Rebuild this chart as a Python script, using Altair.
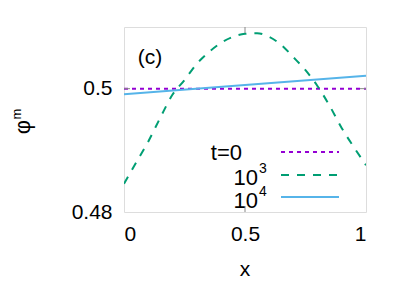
import altair as alt
import pandas as pd

# ---- data ----
x_t0 = [0.0, 1.0]
phi_t0 = [0.5, 0.5]

x_t1e3 = [0.0, 0.05, 0.1, 0.15, 0.2, 0.25, 0.3, 0.35, 0.4, 0.45, 0.5,
          0.55, 0.6, 0.65, 0.7, 0.75, 0.8, 0.85, 0.9, 0.95, 1.0]
phi_t1e3 = [0.4846, 0.4880, 0.4914, 0.4953, 0.4990, 0.5014, 0.5040, 0.5059,
            0.5074, 0.5084, 0.5089, 0.5090, 0.5084, 0.5071, 0.5051, 0.5030,
            0.5004, 0.4972, 0.4936, 0.4905, 0.4876]

x_t1e4 = [0.0, 1.0]
phi_t1e4 = [0.4991, 0.5021]

x_ticks = [0, 0.5, 1]
y_ticks = [0.48, 0.5]

FONT = "Liberation Sans"
W, H = 242, 185
PURPLE, GREEN, BLUE = "#9400d3", "#009e73", "#56b4e9"

df0 = pd.DataFrame({"x": x_t0, "phi": phi_t0})
df3 = pd.DataFrame({"x": x_t1e3, "phi": phi_t1e3})
df4 = pd.DataFrame({"x": x_t1e4, "phi": phi_t1e4})

xs = alt.Scale(domain=[0, 1], nice=False, zero=False)
ys = alt.Scale(domain=[0.48, 0.51], nice=False, zero=False)

xax = alt.Axis(values=x_ticks, format="~g", title=None, domain=False, ticks=False,
               grid=False, labelFont=FONT, labelFontSize=21, labelColor="black",
               labelPadding=11)
yax = alt.Axis(values=y_ticks, format="~g", title=None, domain=False, ticks=False,
               grid=False, labelFont=FONT, labelFontSize=21, labelColor="black",
               labelPadding=12)

base_x = alt.X("x:Q", scale=xs, axis=xax)
base_y = alt.Y("phi:Q", scale=ys, axis=yax)

l0 = alt.Chart(df0).mark_line(color=PURPLE, strokeWidth=2, strokeDash=[4, 4]).encode(
    x=base_x, y=base_y)
l3 = alt.Chart(df3).mark_line(color=GREEN, strokeWidth=2, strokeDash=[8, 8],
                               interpolate="monotone", clip=True).encode(x=base_x, y=base_y)
l4 = alt.Chart(df4).mark_line(color=BLUE, strokeWidth=2).encode(x=base_x, y=base_y)

# inward tick marks (gnuplot style, mirrored)
tx = pd.DataFrame({"x": [0.5]})
ty = pd.DataFrame({"phi": [0.5]})
tick_style = dict(color="#888888", strokeWidth=1)
tb = alt.Chart(tx).mark_rule(**tick_style).encode(
    x=alt.X("x:Q", scale=xs), y=alt.value(H), y2=alt.value(H - 6))
tt = alt.Chart(tx).mark_rule(**tick_style).encode(
    x=alt.X("x:Q", scale=xs), y=alt.value(0), y2=alt.value(6))
tl = alt.Chart(ty).mark_rule(**tick_style).encode(
    y=alt.Y("phi:Q", scale=ys), x=alt.value(0), x2=alt.value(6))
tr = alt.Chart(ty).mark_rule(**tick_style).encode(
    y=alt.Y("phi:Q", scale=ys), x=alt.value(W), x2=alt.value(W - 6))

one = pd.DataFrame({"a": [0]})


def txt(s, x, y, size=21, align="center", baseline="middle", angle=0):
    kw = dict(font=FONT, fontSize=size, align=align, baseline=baseline, color="black")
    if angle:
        kw["angle"] = angle
    return alt.Chart(one).mark_text(text=s, **kw).encode(x=alt.value(x), y=alt.value(y))


labels = [
    txt("(c)", 26, 31),
    txt("x", 121, 243),
    txt("φ", -101, 100, size=22, angle=270),
    txt("m", -107, 87, size=13, angle=270),
    txt("t=0", 118, 126, size=22, align="right"),
    txt("10", 134, 151, size=22, align="right"),
    txt("3", 135, 142, size=14, align="left"),
    txt("10", 134, 174, size=22, align="right"),
    txt("4", 135, 165, size=14, align="left"),
]


def sample(y, color, dash=None):
    kw = dict(color=color, strokeWidth=2)
    if dash:
        kw["strokeDash"] = dash
    return alt.Chart(one).mark_rule(**kw).encode(
        x=alt.value(157), x2=alt.value(215), y=alt.value(y))


samples = [sample(125, PURPLE, [4, 4]), sample(148, GREEN, [8, 8]), sample(170, BLUE)]

chart = alt.layer(l0, l3, l4, tb, tt, tl, tr, *samples, *labels).properties(
    width=W, height=H,
    autosize=alt.AutoSizeParams(type="none"),
    padding={"left": 116, "top": 19, "right": 33, "bottom": 73},
).configure_view(stroke="#333333", strokeWidth=1).configure(background="white")

chart.save("out.html", embed_options={"renderer": "svg", "actions": False})
